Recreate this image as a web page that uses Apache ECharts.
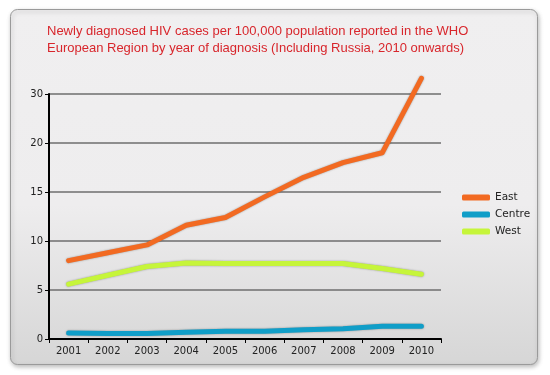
<!DOCTYPE html>
<html>
<head>
<meta charset="utf-8">
<script src="https://cdn.jsdelivr.net/npm/echarts@6/dist/echarts.min.js"></script>
<style>
  html, body { margin: 0; padding: 0; background: #fff; }
  #chart { width: 550px; height: 375px; }
</style>
</head>
<body>
<div id="chart"></div>
<script>
const years = ["2001", "2002", "2003", "2004", "2005", "2006", "2007", "2008", "2009", "2010"];
const east = [8.0, 8.8, 9.6, 11.6, 12.4, 14.5, 16.5, 18.0, 19.0, 33.2];
const centre = [0.6, 0.55, 0.55, 0.7, 0.8, 0.8, 0.95, 1.05, 1.3, 1.3];
const west = [5.6, 6.5, 7.4, 7.75, 7.7, 7.7, 7.7, 7.7, 7.2, 6.6];
// tick labels as printed: evenly spaced but the last step is 20 -> 30
const yTicks = [0, 5, 10, 15, 20, 30];

// map a value onto the evenly spaced tick bands (piecewise linear axis)
function toAxis(v) {
  for (let i = 1; i < yTicks.length; i++) {
    if (v <= yTicks[i] || i === yTicks.length - 1) {
      const a = yTicks[i - 1], b = yTicks[i];
      return (i - 1 + (v - a) / (b - a)) * 5;
    }
  }
  return v;
}

const chart = echarts.init(document.getElementById("chart"));
const axisFont = { color: "#222", fontSize: 10, fontFamily: "DejaVu Sans" };

function line(name, data, color) {
  return {
    name: name,
    type: "line",
    data: data.map(toAxis),
    symbol: "none",
    clip: false,
    lineStyle: {
      color: color,
      width: 5,
      cap: "round",
      join: "round",
      shadowColor: "rgba(0,0,0,0.35)",
      shadowBlur: 2,
    },
    itemStyle: { color: color },
  };
}

chart.setOption({
  animation: false,
  backgroundColor: "#fff",
  graphic: [
    {
      type: "rect",
      z: -10,
      silent: true,
      shape: { x: 10.5, y: 9.5, width: 527, height: 355, r: 7 },
      style: {
        fill: new echarts.graphic.LinearGradient(0, 0, 0, 1, [
          { offset: 0, color: "#f0eff0" },
          { offset: 0.55, color: "#eeedee" },
          { offset: 1, color: "#d6d6d6" },
        ]),
        stroke: "#9a9a9a",
        lineWidth: 1,
        shadowColor: "rgba(0,0,0,0.25)",
        shadowBlur: 4,
        shadowOffsetX: 1,
        shadowOffsetY: 2,
      },
    },
  ],
  title: {
    text: "Newly diagnosed HIV cases per 100,000 population reported in the WHO\nEuropean Region by year of diagnosis (Including Russia, 2010 onwards)",
    left: 42,
    top: 18,
    textStyle: {
      color: "#d8262c",
      fontSize: 13,
      fontWeight: "normal",
      fontFamily: "Liberation Sans",
      lineHeight: 17,
    },
  },
  legend: {
    orient: "vertical",
    left: 462,
    top: 192,
    padding: 0,
    itemWidth: 28,
    itemHeight: 6,
    itemGap: 6,
    icon: "roundRect",
    data: ["East", "Centre", "West"],
    textStyle: { color: "#222", fontSize: 10.5, fontFamily: "DejaVu Sans" },
  },
  grid: { left: 49, right: 109, top: 94, bottom: 36 },
  xAxis: {
    type: "category",
    data: years,
    boundaryGap: true,
    axisLine: { lineStyle: { color: "#000", width: 2 } },
    axisTick: { show: true, interval: 0, length: 4, lineStyle: { color: "#000", width: 1 } },
    axisLabel: Object.assign({ interval: 0, margin: 7 }, axisFont),
    splitLine: { show: false },
  },
  yAxis: {
    type: "value",
    min: 0,
    max: 25,
    interval: 5,
    axisLine: { show: true, lineStyle: { color: "#000", width: 2 } },
    axisTick: { show: true, length: 4, lineStyle: { color: "#000" } },
    axisLabel: Object.assign(
      { margin: 6, formatter: (v) => String(yTicks[Math.round(v / 5)]) },
      axisFont
    ),
    splitLine: { lineStyle: { color: "#6e6e6e", width: 1.5 } },
  },
  series: [
    line("East", east, "#f26a22"),
    line("Centre", centre, "#109ec8"),
    line("West", west, "#c6f53a"),
  ],
});
</script>
</body>
</html>
